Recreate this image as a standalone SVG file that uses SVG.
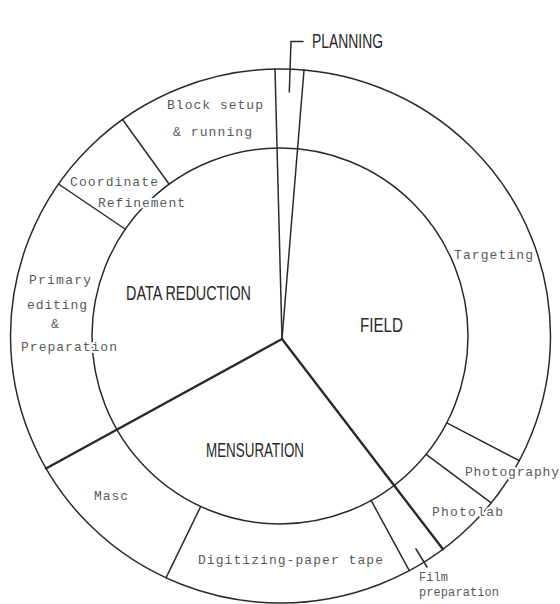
<svg xmlns="http://www.w3.org/2000/svg" width="560" height="604" viewBox="0 0 560 604">
<style>
.ln{fill:none;stroke:#2a2a2a;stroke-width:1.5;stroke-linecap:round}
.thk{stroke-width:2.4}
.big{font-family:"Liberation Sans","DejaVu Sans",sans-serif;fill:#2a2a2a;font-size:20px}
.sm{font-family:"Liberation Mono","DejaVu Sans Mono",monospace;fill:#5a5a5a;font-size:13px;stroke:#fff;stroke-width:4;paint-order:stroke;stroke-linejoin:round}
.fp{font-size:12px;stroke-width:2}
</style>
<rect width="560" height="604" fill="#fff"/>
<g id="rings">
<ellipse class="ln" cx="280.5" cy="336" rx="270" ry="267"/>
<circle class="ln" cx="280" cy="336" r="188"/>
</g>
<g id="connectors">
<line class="ln" x1="282" y1="339" x2="275" y2="69"/>
<line class="ln" x1="282" y1="339" x2="304" y2="70"/>
<line class="ln thk" x1="282" y1="339" x2="46" y2="468.5"/>
<line class="ln thk" x1="282" y1="339" x2="443" y2="549.3"/>
<line class="ln" x1="169" y1="184" x2="122.5" y2="119.5"/>
<line class="ln" x1="125" y1="229" x2="58.5" y2="184"/>
<line class="ln" x1="200.7" y1="506.5" x2="166" y2="577.8"/>
<line class="ln" x1="371.1" y1="500.4" x2="409.3" y2="570.7"/>
<line class="ln" x1="426.1" y1="454.3" x2="491.2" y2="502.9"/>
<line class="ln" x1="446.8" y1="422.9" x2="519.3" y2="460.7"/>
<polyline class="ln" points="289.3,92 291,41.5 303,41.5"/>
<line class="ln" x1="416" y1="549" x2="427" y2="567"/>
</g>
<g id="planning"><text class="big" x="312" y="48" font-size="18" textLength="71" lengthAdjust="spacingAndGlyphs">PLANNING</text></g>
<g id="data-reduction"><text class="big" x="126" y="300" textLength="125" lengthAdjust="spacingAndGlyphs">DATA REDUCTION</text></g>
<g id="field"><text class="big" x="360" y="332" textLength="43" lengthAdjust="spacingAndGlyphs">FIELD</text></g>
<g id="mensuration"><text class="big" x="206" y="457" textLength="98" lengthAdjust="spacingAndGlyphs">MENSURATION</text></g>
<g id="block-setup">
<text class="sm" x="167" y="109" textLength="96">Block setup</text>
<text class="sm" x="173" y="136" textLength="79">&amp; running</text>
</g>
<g id="coordinate-refinement">
<text class="sm" x="70" y="186" textLength="88">Coordinate</text>
<text class="sm" x="98" y="206.5" textLength="87">Refinement</text>
</g>
<g id="primary-editing">
<text class="sm" x="29" y="284" textLength="62">Primary</text>
<text class="sm" x="27" y="309" textLength="60">editing</text>
<text class="sm" x="51" y="328">&amp;</text>
<text class="sm" x="21" y="350.5" textLength="96">Preparation</text>
</g>
<g id="masc"><text class="sm" x="94" y="500" textLength="34">Masc</text></g>
<g id="digitizing"><text class="sm" x="198" y="564" textLength="185">Digitizing-paper tape</text></g>
<g id="film-preparation">
<text class="sm fp" x="419" y="581" textLength="29">Film</text>
<text class="sm fp" x="419" y="596" textLength="80">preparation</text>
</g>
<g id="photolab"><text class="sm" x="432" y="516" textLength="71">Photolab</text></g>
<g id="photography"><text class="sm" x="465" y="476" textLength="94">Photography</text></g>
<g id="targeting"><text class="sm" x="454" y="259" textLength="79">Targeting</text></g>
</svg>
